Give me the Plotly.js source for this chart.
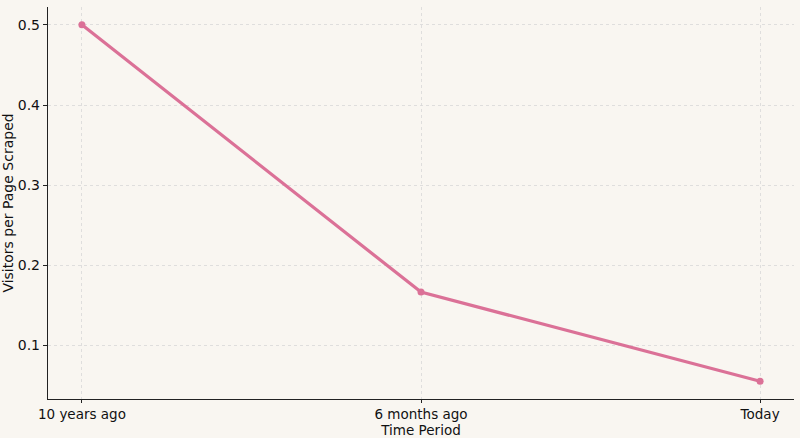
<!DOCTYPE html>
<html>
<head>
<meta charset="utf-8">
<script src="https://cdn.plot.ly/plotly-3.0.1.min.js"></script>
<style>html,body{margin:0;padding:0;background:#f9f6f1;}</style>
</head>
<body>
<div id="chart" style="width:800px;height:438px;"></div>
<script>
const periods = ["10 years ago", "6 months ago", "Today"];
const visitorsPerPage = [0.5, 0.1667, 0.0556];

const trace = {
  x: periods,
  y: visitorsPerPage,
  type: "scatter",
  mode: "lines+markers",
  line: {color: "#db7197", width: 3.2},
  marker: {color: "#db7197", size: 7},
  showlegend: false
};

const fontFam = "DejaVu Sans, sans-serif";
const layout = {
  width: 800, height: 438,
  paper_bgcolor: "#f9f6f1",
  plot_bgcolor: "#f9f6f1",
  margin: {l: 48, r: 6, t: 7, b: 39},
  font: {family: fontFam, size: 13.5, color: "#111"},
  xaxis: {
    type: "category",
    range: [-0.1, 2.1],
    title: {text: "Time Period", font: {size: 13.5}, standoff: 3},
    tickfont: {size: 13.5},
    showline: true, linecolor: "#222", linewidth: 1.2,
    ticks: "outside", ticklen: 3, tickcolor: "#222",
    showgrid: true, gridcolor: "#d8d8d8", griddash: "dot", gridwidth: 0.8,
    zeroline: false, mirror: false
  },
  yaxis: {
    range: [0.0334, 0.5222],
    tickvals: [0.1, 0.2, 0.3, 0.4, 0.5],
    ticktext: ["0.1", "0.2", "0.3", "0.4", "0.5"],
    tickfont: {size: 14},
    title: {text: "Visitors per Page Scraped", font: {size: 14}, standoff: 5},
    showline: true, linecolor: "#222", linewidth: 1.2,
    ticks: "outside", ticklen: 4, tickcolor: "#222",
    showgrid: true, gridcolor: "#d8d8d8", griddash: "dot", gridwidth: 0.8,
    zeroline: false
  }
};

Plotly.newPlot("chart", [trace], layout, {displayModeBar: false, staticPlot: true});
</script>
</body>
</html>
